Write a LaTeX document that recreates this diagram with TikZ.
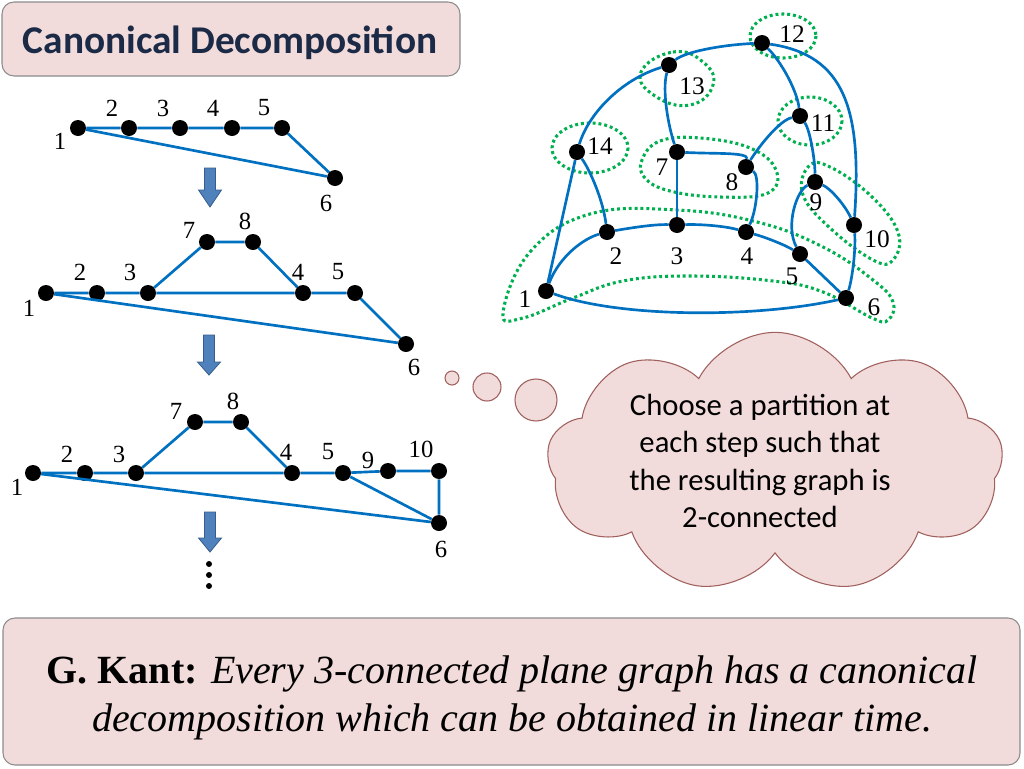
\documentclass[tikz,border=0pt]{standalone}
\usepackage{fontspec}
\setmainfont{Liberation Serif}
\newfontfamily\carlito{Carlito}
\usetikzlibrary{shapes.symbols}
\definecolor{edgeblue}{HTML}{0070C0}
\definecolor{boxpink}{HTML}{F2DCDB}
\definecolor{grn}{HTML}{00B050}
\definecolor{titleblue}{HTML}{1B2A47}
\definecolor{arrowfill}{HTML}{4F81BD}
\definecolor{arrowdraw}{HTML}{385D8A}
\definecolor{boxline}{HTML}{8C8C8C}
\definecolor{cloudline}{HTML}{A0605E}
\tikzset{
  vtx/.style={circle,fill=black,inner sep=0pt,minimum size=12pt},
  edge/.style={draw=edgeblue,line width=2pt},
  lab/.style={inner sep=0pt,font=\fontsize{18.5}{21}\selectfont},
  rlab/.style={inner sep=0pt,font=\fontsize{19}{22}\selectfont},
  grp/.style={draw=grn,line width=2.3pt,dash pattern=on 2.2pt off 2.2pt},
  pinkbox/.style={draw=boxline,fill=boxpink,line width=0.8pt,rounded corners=9pt},
  bigarrow/.style={fill=arrowfill,draw=arrowdraw,line width=0.6pt},
  cloudsty/.style={fill=boxpink,draw=cloudline,line width=0.8pt},
  dotsty/.style={circle,fill=black,inner sep=0pt,minimum size=4.5pt}
}
\newcommand{\mydarrow}[4]{%
  \draw[bigarrow] (#1-5.5,#2) -- (#1+5.5,#2) -- (#1+5.5,#3) -- (#1+11.5,#3) -- (#1,#4) -- (#1-11.5,#3) -- (#1-5.5,#3) -- cycle;}
\begin{document}
\begin{tikzpicture}[x=0.75pt,y=-0.75pt]
\useasboundingbox (0,0) rectangle (1024,768);
\fill[white] (0,0) rectangle (1024,768);

% title
\draw[pinkbox] (2,2) rectangle (460,76);
\node[anchor=base,inner sep=0pt,text=titleblue,font=\carlito\bfseries\fontsize{29.5}{34}\selectfont] (title) at (230,53) {Canonical Decomposition};

% ---------- graph A ----------
\node[vtx] (a1) at (78,128) {};
\node[vtx] (a2) at (129,128) {};
\node[vtx] (a3) at (180,128) {};
\node[vtx] (a4) at (232,128) {};
\node[vtx] (a5) at (282,128) {};
\node[vtx] (a6) at (335,178) {};
\draw[edge] (a1) -- (a2) -- (a3) -- (a4) -- (a5) -- (a6);
\draw[edge] (a1) -- (a6);
\node[lab] (la1) at (60,141) {1};
\node[lab] (la2) at (112,108) {2};
\node[lab] (la3) at (163,108) {3};
\node[lab] (la4) at (213,108) {4};
\node[lab] (la5) at (264,108) {5};
\node[lab] (la6) at (326,203) {6};

\mydarrow{210}{168}{190}{207}

% ---------- graph B ----------
\node[vtx] (b1) at (46,293) {};
\node[vtx] (b2) at (97,293) {};
\node[vtx] (b3) at (148,293) {};
\node[vtx] (b7) at (207,242) {};
\node[vtx] (b8) at (253,242) {};
\node[vtx] (b4) at (303,293) {};
\node[vtx] (b5) at (355,293) {};
\node[vtx] (b6) at (406,344) {};
\draw[edge] (b1) -- (b2) -- (b3) -- (b4) -- (b5) -- (b6);
\draw[edge] (b3) -- (b7) -- (b8) -- (b4);
\draw[edge] (b1) -- (b6);
\node[lab] (lb1) at (29,308) {1};
\node[lab] (lb2) at (80,272) {2};
\node[lab] (lb3) at (130,272) {3};
\node[lab] (lb7) at (189,230) {7};
\node[lab] (lb8) at (245,221) {8};
\node[lab] (lb4) at (298,272) {4};
\node[lab] (lb5) at (338,272) {5};
\node[lab] (lb6) at (414,367) {6};

\mydarrow{209}{335}{362}{375}

% ---------- graph C ----------
\node[vtx] (c1) at (33,473) {};
\node[vtx] (c2) at (85,473) {};
\node[vtx] (c3) at (136,473) {};
\node[vtx] (c7) at (195,422) {};
\node[vtx] (c8) at (241,422) {};
\node[vtx] (c4) at (292,473) {};
\node[vtx] (c5) at (343,473) {};
\node[vtx] (c9) at (388,471) {};
\node[vtx] (c10) at (439,471) {};
\node[vtx] (c6) at (439,523) {};
\draw[edge] (c1) -- (c2) -- (c3) -- (c4) -- (c5) -- (c9) -- (c10) -- (c6);
\draw[edge] (c3) -- (c7) -- (c8) -- (c4);
\draw[edge] (c5) -- (c6);
\draw[edge] (c1) -- (c6);
\node[lab] (lc1) at (17,487) {1};
\node[lab] (lc2) at (67,454) {2};
\node[lab] (lc3) at (119,454) {3};
\node[lab] (lc7) at (176,411) {7};
\node[lab] (lc8) at (233,401) {8};
\node[lab] (lc4) at (286,452) {4};
\node[lab] (lc5) at (328,452) {5};
\node[lab] (lc9) at (368,460) {9};
\node[lab] (lc10) at (421,449) {10};
\node[lab] (lc6) at (441,549) {6};

\mydarrow{210}{512}{538}{552}
\node[dotsty] (d1) at (209,564) {};
\node[dotsty] (d2) at (209,575) {};
\node[dotsty] (d3) at (209,586) {};

% ---------- right graph: groups ----------
\draw[grp] plot[smooth cycle,tension=0.7] coordinates {(503,313) (530,252) (590,214) (677,210) (757,222) (823,247) (873,280) (893,302) (888,320) (872,318) (823,292) (773,281) (690,276) (623,281) (573,298) (523,318)};
\draw[grp] (783,36) ellipse [x radius=33,y radius=22];
\draw[grp] plot[smooth cycle,tension=0.8] coordinates {(641,72) (673,52) (703,62) (713,85) (690,105) (655,96)};
\draw[grp] (810,121) ellipse [x radius=32,y radius=24];
\draw[grp] (590,148) ellipse [x radius=38,y radius=25];
\draw[grp] plot[smooth cycle,tension=0.7] coordinates {(642,160) (660,141) (700,138) (750,148) (776,170) (768,193) (720,197) (670,191) (645,178)};
\draw[grp] plot[smooth cycle,tension=0.7] coordinates {(808,167) (828,166) (870,195) (898,232) (893,260) (873,260) (830,228) (803,195)};

% ---------- right graph: vertices ----------
\node[vtx] (r1) at (546,291) {};
\node[vtx] (r2) at (607,232) {};
\node[vtx] (r3) at (677,225) {};
\node[vtx] (r4) at (746,232) {};
\node[vtx] (r5) at (800,254) {};
\node[vtx] (r6) at (846,298) {};
\node[vtx] (r7) at (677,152) {};
\node[vtx] (r8) at (746,167) {};
\node[vtx] (r9) at (815,182) {};
\node[vtx] (r10) at (854,225) {};
\node[vtx] (r11) at (800,116) {};
\node[vtx] (r12) at (762,43) {};
\node[vtx] (r13) at (669,65) {};
\node[vtx] (r14) at (577,152) {};

\draw[edge] (r1) .. controls (560,255) and (585,238) .. (r2);
\draw[edge] (r2) .. controls (630,228) and (655,224) .. (r3);
\draw[edge] (r3) .. controls (700,224) and (725,226) .. (r4);
\draw[edge] (r4) .. controls (765,237) and (785,245) .. (r5);
\draw[edge] (r5) -- (r6);
\draw[edge] (r1) .. controls (620,318) and (756,318) .. (r6);
\draw[edge] (r1) -- (r14);
\draw[edge] (r14) .. controls (590,170) and (603,200) .. (r2);
\draw[edge] (r14) .. controls (588,115) and (620,80) .. (r13);
\draw[edge] (r13) .. controls (685,52) and (720,45) .. (r12);
\draw[edge] (r13) .. controls (662,90) and (668,125) .. (r7);
\draw[edge] (r7) -- (r3);
\draw[edge] (r7) .. controls (715,154) and (748,152) .. (r8);
\draw[edge] (r8) .. controls (760,145) and (780,120) .. (r11);
\draw[edge] (r8) .. controls (760,175) and (757,210) .. (r4);
\draw[edge] (r12) .. controls (780,60) and (797,90) .. (r11);
\draw[edge] (r11) .. controls (810,130) and (815,160) .. (r9);
\draw[edge] (r12) .. controls (845,55) and (862,110) .. (r10);
\draw[edge] (r10) .. controls (856,250) and (852,280) .. (r6);
\draw[edge] (r9) .. controls (830,188) and (845,205) .. (r10);
\draw[edge] (r9) .. controls (797,190) and (785,225) .. (r5);

\node[rlab] (lr1) at (525,299) {1};
\node[rlab] (lr2) at (616,256) {2};
\node[rlab] (lr3) at (677,256) {3};
\node[rlab] (lr4) at (747,256) {4};
\node[rlab] (lr5) at (792,276) {5};
\node[rlab] (lr6) at (874,307) {6};
\node[rlab] (lr7) at (662,167) {7};
\node[rlab] (lr8) at (732,182) {8};
\node[rlab] (lr9) at (816,202) {9};
\node[rlab] (lr10) at (877,239) {10};
\node[rlab] (lr11) at (823,123) {11};
\node[rlab] (lr12) at (792,34) {12};
\node[rlab] (lr13) at (692,86) {13};
\node[rlab] (lr14) at (600,146) {14};

% ---------- thought cloud ----------
\node[cloudsty,circle,minimum size=10.5pt,inner sep=0pt] (bub1) at (452,378) {};
\node[cloudsty,circle,minimum size=21pt,inner sep=0pt] (bub2) at (487,387) {};
\node[cloudsty,circle,minimum size=31.5pt,inner sep=0pt] (bub3) at (536,400) {};
\node[cloudsty,cloud,cloud puffs=9,cloud puff arc=125,cloud ignores aspect,minimum width=342pt,minimum height=196pt] (cloud) at (775,463) {};
\node[align=center,inner sep=0pt,font=\carlito\fontsize{23}{28}\selectfont] (cloudtext) at (760,461) {Choose a partition at\\each step such that\\the resulting graph is\\2-connected};

% ---------- bottom box ----------
\draw[pinkbox] (3,618) rectangle (1020,765);
\node[anchor=base,inner sep=0pt,font=\fontsize{30}{36}\selectfont] (bot1) at (512,683) {\textbf{G. Kant:} \textit{Every 3-connected plane graph has a canonical}};
\node[anchor=base,inner sep=0pt,font=\fontsize{30}{36}\selectfont] (bot2) at (512,731) {\textit{decomposition which can be obtained in linear time.}};
\end{tikzpicture}
\end{document}
